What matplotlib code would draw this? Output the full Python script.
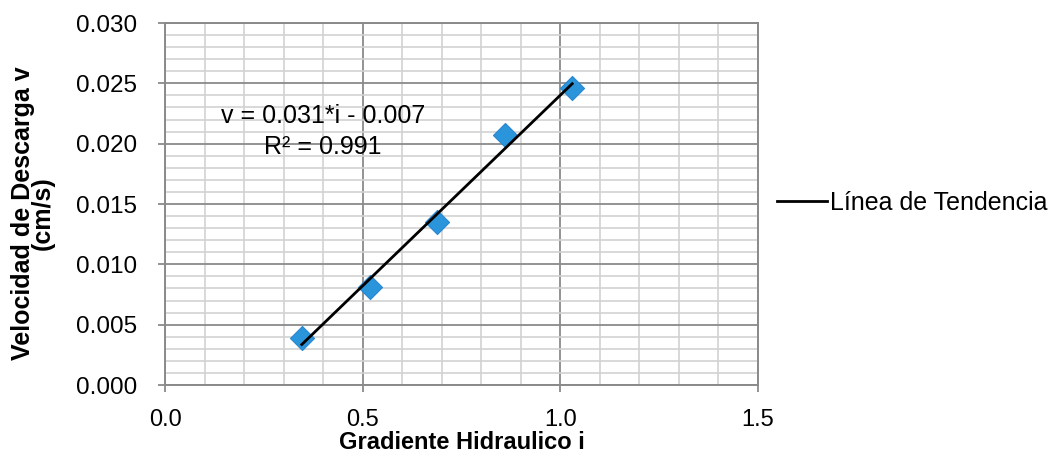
import numpy as np
import matplotlib
matplotlib.use("Agg")
import matplotlib.pyplot as plt
from matplotlib.ticker import MultipleLocator, FormatStrFormatter

# ---- data ----
gradiente = [0.346, 0.518, 0.687, 0.859, 1.030]
velocidad = [0.0039, 0.0081, 0.0135, 0.0207, 0.0246]
x_ticks = [0.0, 0.5, 1.0, 1.5]
y_ticks = [0.000, 0.005, 0.010, 0.015, 0.020, 0.025, 0.030]
eq_text = "v = 0.031*i - 0.007\nR² = 0.991"
legend_label = "Línea de Tendencia"
x_label = "Gradiente Hidraulico i"
y_label = "Velocidad de Descarga v\n(cm/s)"

plt.rcParams['font.family'] = ['Liberation Sans', 'DejaVu Sans']

fig = plt.figure(figsize=(10.58, 4.59), dpi=100)
ax = fig.add_axes([165/1058, 1-385/459, (758-165)/1058, (385-23)/459])

ax.set_xlim(0, 1.5)
ax.set_ylim(0, 0.030)
ax.set_xticks(x_ticks)
ax.set_yticks(y_ticks)
ax.xaxis.set_minor_locator(MultipleLocator(0.1))
ax.yaxis.set_minor_locator(MultipleLocator(0.001))
ax.xaxis.set_major_formatter(FormatStrFormatter('%.1f'))
ax.yaxis.set_major_formatter(FormatStrFormatter('%.3f'))

ax.grid(which='minor', color='#d2d2d2', linewidth=1.2)
ax.grid(which='major', color='#8a8a8a', linewidth=1.3)
ax.set_axisbelow(True)

for s in ax.spines.values():
    s.set_color('#8a8a8a')
    s.set_linewidth(1.4)

ax.tick_params(which='major', direction='out', length=5, width=1.3, color='#8a8a8a',
               labelsize=17.5)
ax.tick_params(axis='y', pad=15)
ax.tick_params(axis='x', pad=12, labelsize=17)
ax.tick_params(which='minor', length=0)

# data points
ax.scatter(gradiente, velocidad, marker='D', s=150, color='#2b95dc',
           edgecolors='#2a88cf', linewidths=0.8, zorder=3)

# trend line (least squares over the data)
coef = np.polyfit(gradiente, velocidad, 1)
xs = np.array([min(gradiente), max(gradiente)])
line, = ax.plot(xs, np.polyval(coef, xs), color='black', linewidth=2, zorder=4)

ax.text(0.40, 0.0210, eq_text, ha='center', va='center', fontsize=18,
        linespacing=1.35, zorder=5)

ax.set_xlabel(x_label, fontsize=17, fontweight='bold', labelpad=0)
ax.set_ylabel(y_label, fontsize=18, fontweight='bold', linespacing=0.8)
ax.yaxis.set_label_coords(-(165-55)/593, 0.475)

fig.legend(handles=[line], labels=[legend_label], loc='center left',
           bbox_to_anchor=(777/1058, 1-203/459), frameon=False, borderpad=0,
           borderaxespad=0, handlelength=2.0, handletextpad=0.1, fontsize=18)

fig.savefig('out.png', dpi=100)
